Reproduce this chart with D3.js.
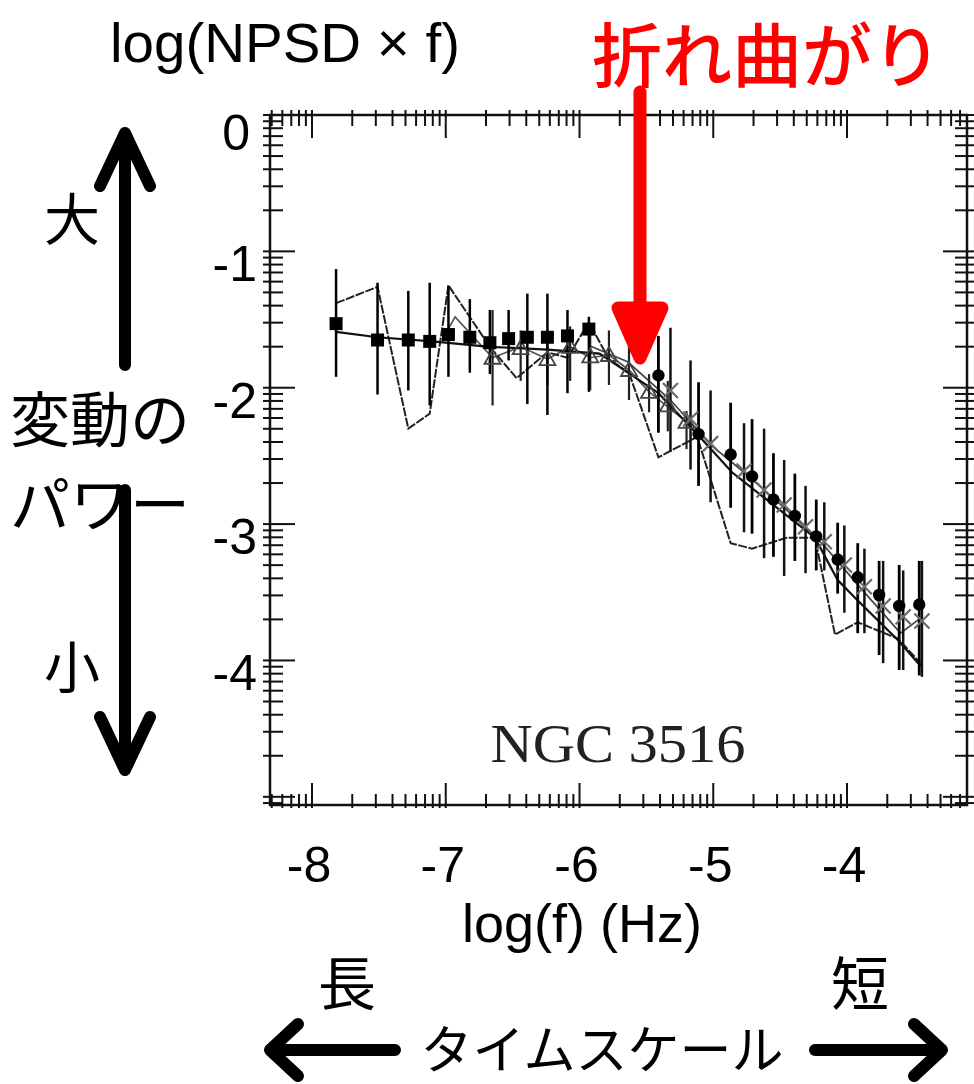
<!DOCTYPE html>
<html><head><meta charset="utf-8">
<script src="https://cdn.jsdelivr.net/npm/d3@7"></script>
<style>body{margin:0;background:#fff}svg{display:block}</style>
</head><body>
<svg id="c" width="974" height="1084"></svg>
<script>
// ---------- data (log f, log(NPSD*f)) ----------
const sqX  = [-7.82,-7.51,-7.28,-7.12,-6.98,-6.82,-6.67,-6.53,-6.39,-6.24,-6.09,-5.93];
const sqY  = [-1.53,-1.65,-1.65,-1.66,-1.61,-1.63,-1.67,-1.64,-1.63,-1.63,-1.62,-1.57];
const sqHi = [-1.13,-1.23,-1.29,-1.23,-1.25,-1.35,-1.43,-1.43,-1.31,-1.31,-1.43,-1.48];
const sqLo = [-1.92,-2.05,-2.02,-2.13,-1.92,-1.89,-1.90,-1.80,-2.12,-2.20,-2.04,-2.03];

const ciX  = [-5.41,-5.11,-4.87,-4.71,-4.55,-4.39,-4.23,-4.07,-3.92,-3.76,-3.61,-3.46];
const ciY  = [-1.91,-2.34,-2.49,-2.65,-2.82,-2.94,-3.09,-3.26,-3.39,-3.52,-3.60,-3.59];
const ciHi = [-1.62,-1.96,-2.11,-2.23,-2.48,-2.63,-2.82,-2.99,-3.14,-3.27,-3.30,-3.27];
const ciLo = [-2.33,-2.72,-2.88,-3.07,-3.24,-3.27,-3.34,-3.51,-3.80,-3.96,-4.07,-4.11];

const trX  = [-6.65,-6.44,-6.24,-6.07,-5.92,-5.78,-5.63,-5.48,-5.34,-5.20];
const trY  = [-1.78,-1.71,-1.79,-1.70,-1.77,-1.76,-1.87,-2.03,-2.13,-2.25];
const trHi = [-1.43,-1.58,-1.58,-1.55,-1.58,-1.58,-1.69,-1.90,-1.95,-2.17];
const trLo = [-2.13,-1.95,-1.98,-1.95,-2.02,-1.98,-2.09,-2.18,-2.32,-2.45];

const crX  = [-5.32,-5.17,-5.02,-4.77,-4.62,-4.47,-4.31,-4.17,-4.02,-3.87,-3.73,-3.58,-3.44];
const crY  = [-2.02,-2.23,-2.41,-2.61,-2.75,-2.86,-3.02,-3.13,-3.30,-3.46,-3.60,-3.68,-3.71];
const crHi = [-1.56,-1.80,-2.02,-2.26,-2.30,-2.53,-2.72,-2.84,-3.01,-3.18,-3.27,-3.34,-3.27];
const crLo = [-2.47,-2.60,-2.84,-3.06,-3.25,-3.38,-3.36,-3.34,-3.65,-3.80,-4.02,-4.07,-4.12];

const jagX = [-7.82,-7.51,-7.28,-7.12,-6.98,-6.67,-6.47,-6.24,-6.09,-5.93,-5.78,-5.63,-5.41,-5.12,-4.87,-4.71,-4.45,-4.24,-4.09,-3.92,-3.62,-3.45];
const jagY = [-1.38,-1.26,-2.30,-2.19,-1.25,-1.70,-1.93,-1.74,-1.78,-1.52,-1.79,-1.89,-2.51,-2.36,-3.14,-3.18,-3.10,-3.10,-3.81,-3.72,-3.84,-4.02];

const modX = [-7.82,-7.51,-7.10,-6.67,-6.24,-5.85,-5.41,-5.11,-4.86,-4.24,-4.07,-3.92,-3.62,-3.45];
const modY = [-1.59,-1.63,-1.66,-1.70,-1.72,-1.75,-2.04,-2.35,-2.62,-3.10,-3.41,-3.56,-3.85,-4.04];

const crLineX = [-5.93,-5.64,-5.32,-5.02,-4.77,-4.47,-4.17,-3.88,-3.60,-3.45];
const crLineY = [-1.69,-1.81,-2.09,-2.42,-2.62,-2.88,-3.16,-3.49,-3.80,-3.69];

const trLineX = [-7.01,-6.93,-6.65,-6.44,-6.24,-6.07,-5.92,-5.78,-5.63,-5.48,-5.34,-5.20,-5.10];
const trLineY = [-1.62,-1.48,-1.78,-1.70,-1.79,-1.70,-1.78,-1.76,-1.87,-2.03,-2.14,-2.25,-2.31];

const xMajor = [-8,-7,-6,-5,-4];
const xTickLabels = ["-8","-7","-6","-5","-4"];
const yMajor = [0,-1,-2,-3,-4,-5];
const yLabelVals = [0,-1,-2,-3,-4];
const yTickLabels = ["0","-1","-2","-3","-4"];

// ---------- setup ----------
const svg = d3.select("#c");
const L=270, R=967, T=115, B=805;
const x = d3.scaleLinear().domain([-8.314,-3.103]).range([L,R]);
const y = d3.scaleLinear().domain([0,-5.06]).range([T,B]);

function minorTicks(sc){
  const [a,b] = d3.extent(sc.domain());
  const out=[];
  for(let d=Math.floor(a)-1; d<=Math.ceil(b); d++){
    for(let k=2;k<=9;k++){ const v=d+Math.log10(k); if(v>=a && v<=b) out.push(v); }
  }
  return out;
}
const zip=(a,b)=>a.map((v,i)=>[v,b[i]]);
const line = d3.line().x(d=>x(d[0])).y(d=>y(d[1]));
const plot = svg.append("g");

// lines
plot.append("path").attr("d",line(zip(trLineX,trLineY))).attr("fill","none")
  .attr("stroke","#555").attr("stroke-width",1.7);
plot.append("path").attr("d",line(zip(crLineX,crLineY))).attr("fill","none")
  .attr("stroke","#444").attr("stroke-width",1.7);
plot.append("path").attr("d",line(zip(jagX,jagY))).attr("fill","none")
  .attr("stroke","#222").attr("stroke-width",2).attr("stroke-dasharray","9,1.5");
plot.append("path").attr("d",line(zip(modX,modY))).attr("fill","none")
  .attr("stroke","#111").attr("stroke-width",2.2);

// error bars
function ebars(X,Hi,Lo,col,w){
  plot.append("g").selectAll("line").data(X).join("line")
    .attr("x1",d=>x(d)).attr("x2",d=>x(d))
    .attr("y1",(d,i)=>y(Hi[i])).attr("y2",(d,i)=>y(Lo[i]))
    .attr("stroke",col).attr("stroke-width",w);
}
ebars(trX,trHi,trLo,"#222",2.2);
ebars(crX,crHi,crLo,"#111",2.5);
ebars(sqX,sqHi,sqLo,"#000",2.5);
ebars(ciX,ciHi,ciLo,"#000",2.8);

// triangles (open)
plot.append("g").selectAll("path").data(trX).join("path")
  .attr("d",(d,i)=>{const cx=x(d), cy=y(trY[i]); return `M${cx-8},${cy+6}L${cx},${cy-8}L${cx+8},${cy+6}Z`;})
  .attr("fill","none").attr("stroke","#444").attr("stroke-width",1.8);
// crosses
plot.append("g").selectAll("path").data(crX).join("path")
  .attr("d",(d,i)=>{const cx=x(d), cy=y(crY[i]); return `M${cx-7.5},${cy-7.5}L${cx+7.5},${cy+7.5}M${cx-7.5},${cy+7.5}L${cx+7.5},${cy-7.5}`;})
  .attr("fill","none").attr("stroke","#6a6a6a").attr("stroke-width",2.2);
// squares
plot.append("g").selectAll("rect").data(sqX).join("rect")
  .attr("x",d=>x(d)-6.5).attr("y",(d,i)=>y(sqY[i])-6.5).attr("width",13).attr("height",13).attr("fill","#000");
// circles
plot.append("g").selectAll("circle").data(ciX).join("circle")
  .attr("cx",d=>x(d)).attr("cy",(d,i)=>y(ciY[i])).attr("r",6.2).attr("fill","#000");

// ---------- frame & ticks ----------
const ax = svg.append("g").attr("stroke","#111");
ax.append("rect").attr("x",L).attr("y",T).attr("width",R-L).attr("height",B-T)
  .attr("fill","none").attr("stroke-width",2.5);
const xm = minorTicks(x), ym = minorTicks(y);
const tk=(data,f)=>ax.append("g").selectAll("line").data(data).join("line").each(function(d){
  const c=f(d); d3.select(this).attr("x1",c[0]).attr("y1",c[1]).attr("x2",c[2]).attr("y2",c[3]);}).attr("stroke-width",2);
tk(xm,d=>[x(d),T-5,x(d),T+11]);
tk(xMajor,d=>[x(d),T-5,x(d),T+23]);
tk(xm,d=>[x(d),B+3,x(d),B-11]);
tk(xMajor,d=>[x(d),B+3,x(d),B-22]);
tk(ym,d=>[L-7,y(d),L+13,y(d)]);
tk(yMajor,d=>[L-7,y(d),L+25,y(d)]);
tk(ym,d=>[R+7,y(d),R-12,y(d)]);
tk(yMajor,d=>[R+7,y(d),R-24,y(d)]);

// tick labels
const sans = "'Liberation Sans', Arial, sans-serif";
svg.append("g").selectAll("text").data(yLabelVals).join("text")
  .attr("x",(d,i)=>i===0?250:257).attr("y",(d,i)=>y(d)+(i===0?18:13)).attr("text-anchor","end").attr("dominant-baseline","central")
  .attr("font-family",sans).attr("font-size",50).text((d,i)=>yTickLabels[i]);
svg.append("g").selectAll("text").data(xMajor).join("text")
  .attr("x",d=>x(d)-3).attr("y",865).attr("text-anchor","middle").attr("dominant-baseline","central")
  .attr("font-family",sans).attr("font-size",50).text((d,i)=>xTickLabels[i]);

svg.append("text").attr("x",582).attr("y",942).attr("text-anchor","middle")
  .attr("font-family",sans).attr("font-size",54).text("log(f) (Hz)");
svg.append("text").attr("x",110).attr("y",62)
  .attr("font-family",sans).attr("font-size",56).attr("textLength",350).attr("lengthAdjust","spacingAndGlyphs")
  .text("log(NPSD × f)");

svg.append("text").attr("x",618).attr("y",762).attr("text-anchor","middle")
  .attr("font-family","'Liberation Serif', serif").attr("font-size",54).attr("fill","#222")
  .attr("textLength",255).attr("lengthAdjust","spacingAndGlyphs").text("NGC 3516");

// ---------- annotations ----------
const jp = "'Noto Sans CJK JP', sans-serif";
const jt=(t,xx,yy,fs,anchor,fill,fw)=>svg.append("text").attr("x",xx).attr("y",yy).attr("font-family",jp)
  .attr("font-size",fs).attr("text-anchor",anchor||"middle").attr("dominant-baseline","central")
  .attr("font-weight",fw||400).attr("fill",fill||"#000").text(t);
jt("折れ曲がり",767,51,70,"middle","#ff0000",500);
jt("大",72,215,56);
jt("変動の",100,415,60);
jt("パワー",100,500,60);
jt("小",72,663,56);
jt("長",347,980,58);
jt("短",860,980,58);
jt("タイムスケール",602,1046,52);

const arr = svg.append("g").attr("fill","none").attr("stroke","#000").attr("stroke-width",12)
  .attr("stroke-linecap","round").attr("stroke-linejoin","round");
arr.append("path").attr("d","M125,365L125,135M100,186L125,133L150,186");
arr.append("path").attr("d","M125,490L125,768M100,717L125,770L150,717");
arr.append("path").attr("d","M395,1050L272,1050M298,1024L270,1050L298,1076");
arr.append("path").attr("d","M815,1050L940,1050M914,1024L942,1050L914,1076");

const red = svg.append("g").attr("stroke","#ff0000").attr("fill","#ff0000")
  .attr("stroke-linecap","round").attr("stroke-linejoin","round");
red.append("path").attr("d","M640,92L640,340").attr("stroke-width",13);
red.append("path").attr("d","M618,308L640,358L662,308Z").attr("stroke-width",13);
</script>
</body></html>
